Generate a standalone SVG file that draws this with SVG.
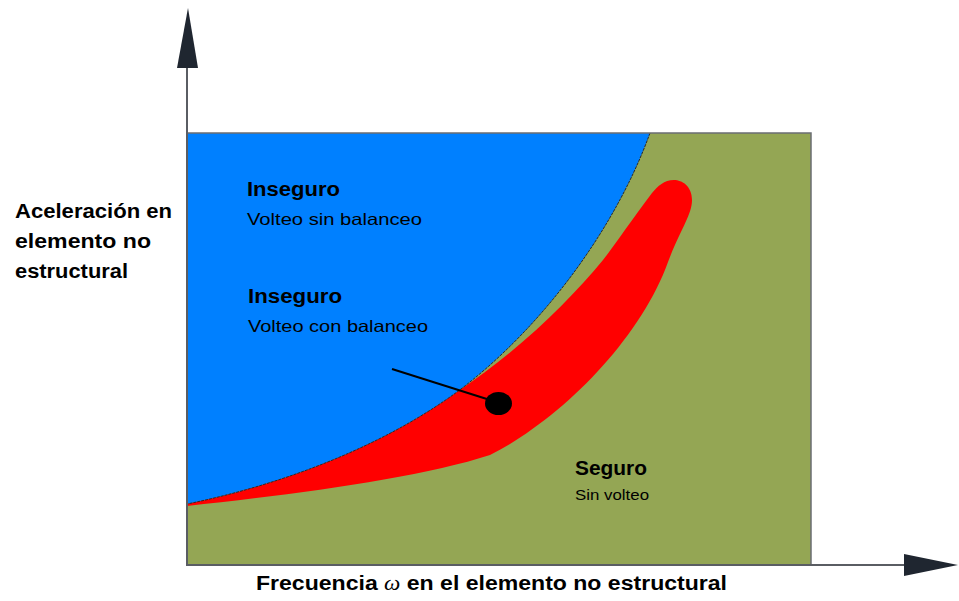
<svg xmlns="http://www.w3.org/2000/svg" width="959" height="601" viewBox="0 0 959 601">
<style>
.t{font-family:"Liberation Sans","DejaVu Sans",sans-serif;fill:#000;}
.b{font-weight:bold;}
.ax{stroke:#5a5d63;stroke-width:2;fill:none;}
.ah{fill:#1f2630;}
</style>
<rect width="959" height="601" fill="#ffffff"/>
<g id="plot">
<rect id="safe-region" x="187" y="133" width="624" height="432" fill="#94a654"/>
<path id="unsafe-region" d="M187,133 L650,133 C615,230 540,330 457,392 C380,448 280,485 187,504 Z" fill="#0080ff"/>
<path id="rocking-region" d="M187,506 C290,495 420,478 490,455 C560,420 640,340 668,262 C680,230 692,215 692,200 C692,186 682,180 674,180 C664,180 658,186 652,193 C630,222 615,245 603,260 C570,300 520,350 457,392 C380,448 280,485 187,504 Z" fill="#ff0000"/>
<path d="M650,133 C615,230 540,330 457,392 C380,448 280,485 187,504" fill="none" stroke="#2a2a2a" stroke-width="1" stroke-dasharray="3,1"/>
<path d="M187,133 L811,133 L811,565" fill="none" stroke="#6b6e73" stroke-width="1.5"/>
</g>
<g id="axes">
<line class="ax" x1="187" y1="60" x2="187" y2="566"/>
<line class="ax" x1="186" y1="565" x2="906" y2="565"/>
<polygon class="ah" points="188,8 177,68 198,68"/>
<polygon class="ah" points="904,554 904,576 958,565"/>
</g>
<g id="connectors">
<line x1="392" y1="369" x2="490" y2="400" stroke="#000" stroke-width="2"/>
<ellipse cx="498.5" cy="403.5" rx="13.5" ry="11.5" fill="#000"/>
</g>
<g id="label-unsafe-1">
<text class="t b" x="247" y="196" font-size="20" textLength="93" lengthAdjust="spacingAndGlyphs">Inseguro</text>
<text class="t" x="247" y="225" font-size="16.5" textLength="175" lengthAdjust="spacingAndGlyphs">Volteo sin balanceo</text>
</g>
<g id="label-unsafe-2">
<text class="t b" x="248" y="303" font-size="20" textLength="94" lengthAdjust="spacingAndGlyphs">Inseguro</text>
<text class="t" x="248" y="332" font-size="16.5" textLength="180" lengthAdjust="spacingAndGlyphs">Volteo con balanceo</text>
</g>
<g id="label-safe">
<text class="t b" x="575" y="475" font-size="20" textLength="72" lengthAdjust="spacingAndGlyphs">Seguro</text>
<text class="t" x="575" y="500" font-size="15" textLength="74" lengthAdjust="spacingAndGlyphs">Sin volteo</text>
</g>
<g id="label-y">
<text class="t b" x="15" y="218" font-size="19.5" textLength="157" lengthAdjust="spacingAndGlyphs">Aceleración en</text>
<text class="t b" x="15" y="248" font-size="19.5" textLength="136" lengthAdjust="spacingAndGlyphs">elemento no</text>
<text class="t b" x="15" y="278" font-size="19.5" textLength="113" lengthAdjust="spacingAndGlyphs">estructural</text>
</g>
<g id="label-x">
<text class="t b" x="256" y="590" font-size="20" textLength="471" lengthAdjust="spacingAndGlyphs">Frecuencia <tspan font-family="'Liberation Serif',serif" font-style="italic" font-weight="normal">ω</tspan> en el elemento no estructural</text>
</g>
</svg>
